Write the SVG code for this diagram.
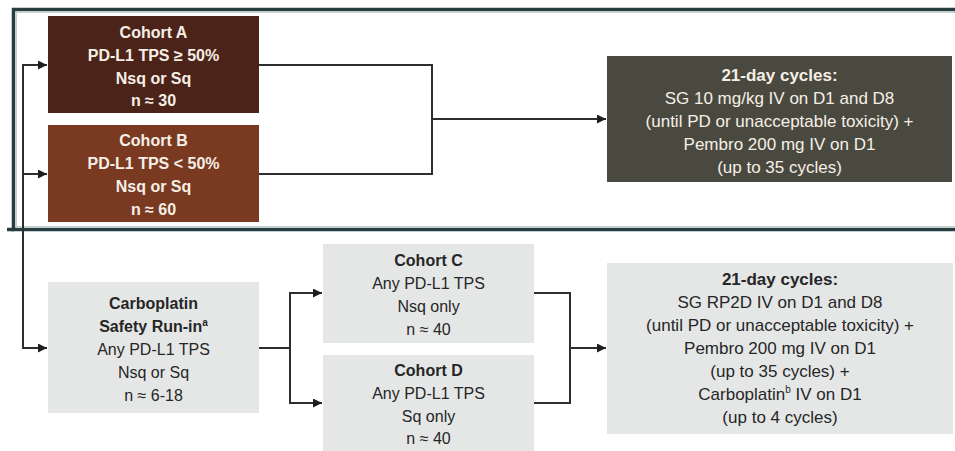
<svg xmlns="http://www.w3.org/2000/svg" width="955" height="451" viewBox="0 0 955 451">
<defs>
<marker id="arr" viewBox="0 0 10 10" refX="10" refY="5" markerWidth="10" markerHeight="9" markerUnits="userSpaceOnUse" orient="auto">
<path d="M0,0 L10,5 L0,10 z" fill="#1e1e1e"/>
</marker>
<style>
.t{font-family:"Liberation Sans",Arial,sans-serif;font-size:16px;text-anchor:middle}
.r{font-size:17px}
.b{font-weight:bold}
.w{fill:#f6efe6}
.d{fill:#262626}
.gray{fill:#e5e7e7}
.c{fill:none;stroke:#2e2e2e;stroke-width:2}
.ca{fill:none;stroke:#2e2e2e;stroke-width:2;marker-end:url(#arr)}
</style>
</defs>
<rect width="955" height="451" fill="#ffffff"/>
<g id="frame">
<rect x="16.5" y="12.5" width="950" height="214" fill="none" stroke="#c3d0d0" stroke-width="1"/>
<rect x="13.5" y="9.5" width="960" height="220" fill="none" stroke="#263e40" stroke-width="3.5"/>
<line x1="7" y1="229.5" x2="14" y2="229.5" stroke="#263e40" stroke-width="3.5"/>
</g>
<g id="connectors">
<path class="c" d="M23,65 V348"/>
<path class="ca" d="M22,65 H47"/>
<path class="ca" d="M22,174 H47"/>
<path class="ca" d="M22,348 H47"/>
<path class="c" d="M259,65 H432 V174 H259"/>
<path class="ca" d="M432,119 H606"/>
<path class="c" d="M259,348 H290"/>
<path class="c" d="M290,292 V404"/>
<path class="ca" d="M289,293 H322"/>
<path class="ca" d="M289,403 H322"/>
<path class="c" d="M534,293 H570 V403 H534"/>
<path class="ca" d="M570,348 H606"/>
</g>
<g id="cohortA">
<rect x="48" y="16" width="211" height="97" fill="#4c2319"/>
<text class="t w b" x="153.5" y="38">Cohort A</text>
<text class="t w b" x="153.5" y="61">PD-L1 TPS ≥ 50%</text>
<text class="t w b" x="153.5" y="84">Nsq or Sq</text>
<text class="t w b" x="153.5" y="106">n ≈ 30</text>
</g>
<g id="cohortB">
<rect x="48" y="125" width="211" height="97" fill="#7a3a22"/>
<text class="t w b" x="153.5" y="146">Cohort B</text>
<text class="t w b" x="153.5" y="169">PD-L1 TPS &lt; 50%</text>
<text class="t w b" x="153.5" y="192">Nsq or Sq</text>
<text class="t w b" x="153.5" y="215">n ≈ 60</text>
</g>
<g id="sgTop">
<rect x="607" y="56" width="345" height="126" fill="#4a4940"/>
<text class="t r w b" x="779.5" y="81">21-day cycles:</text>
<text class="t r w" x="779.5" y="104">SG 10 mg/kg IV on D1 and D8</text>
<text class="t r w" x="779.5" y="127">(until PD or unacceptable toxicity) +</text>
<text class="t r w" x="779.5" y="150">Pembro 200 mg IV on D1</text>
<text class="t r w" x="779.5" y="173">(up to 35 cycles)</text>
</g>
<g id="carboRunIn">
<rect class="gray" x="48" y="282" width="211" height="131"/>
<text class="t d b" x="153.5" y="309">Carboplatin</text>
<text class="t d b" x="153.5" y="332">Safety Run-in<tspan font-size="10" dy="-6">a</tspan></text>
<text class="t d" x="153.5" y="355">Any PD-L1 TPS</text>
<text class="t d" x="153.5" y="378">Nsq or Sq</text>
<text class="t d" x="153.5" y="401">n ≈ 6-18</text>
</g>
<g id="cohortC">
<rect class="gray" x="323" y="244" width="211" height="99"/>
<text class="t d b" x="428.5" y="266">Cohort C</text>
<text class="t d" x="428.5" y="289">Any PD-L1 TPS</text>
<text class="t d" x="428.5" y="312">Nsq only</text>
<text class="t d" x="428.5" y="335">n ≈ 40</text>
</g>
<g id="cohortD">
<rect class="gray" x="323" y="355" width="211" height="100"/>
<text class="t d b" x="428.5" y="376">Cohort D</text>
<text class="t d" x="428.5" y="399">Any PD-L1 TPS</text>
<text class="t d" x="428.5" y="422">Sq only</text>
<text class="t d" x="428.5" y="444">n ≈ 40</text>
</g>
<g id="sgBottom">
<rect class="gray" x="607" y="263" width="346" height="171"/>
<text class="t r d b" x="780" y="285">21-day cycles:</text>
<text class="t r d" x="780" y="308">SG RP2D IV on D1 and D8</text>
<text class="t r d" x="780" y="331">(until PD or unacceptable toxicity) +</text>
<text class="t r d" x="780" y="354">Pembro 200 mg IV on D1</text>
<text class="t r d" x="780" y="377">(up to 35 cycles) +</text>
<text class="t r d" x="780" y="400">Carboplatin<tspan font-size="10" dy="-7">b</tspan><tspan dy="7"> IV on D1</tspan></text>
<text class="t r d" x="780" y="423">(up to 4 cycles)</text>
</g>
</svg>
